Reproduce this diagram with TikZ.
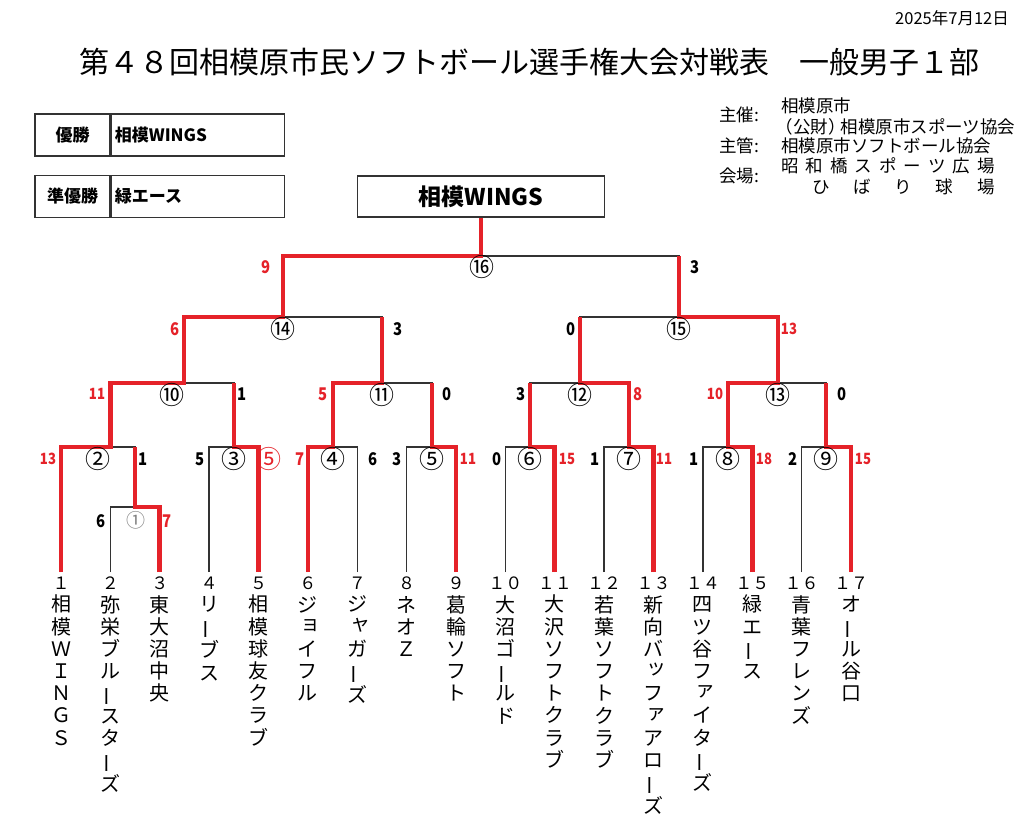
\documentclass[tikz,border=0pt]{standalone}
\usepackage{fontspec}
\setmainfont{Noto Sans CJK JP}
\definecolor{wred}{HTML}{E52229}
\definecolor{lgray}{HTML}{333333}
\definecolor{cgray}{HTML}{808080}
\newcommand\vl{\rotatebox[origin=c]{90}{ー}}
\newcommand\sk[1]{\makebox[1em][l]{\hspace*{0.14em}\raisebox{0.2em}{#1}}}
\newcommand\scn[1]{\scalebox{0.85}[1]{#1}}
\newcommand\tn[1]{{\fontsize{17}{22.2}\selectfont #1}}
\begin{document}
\begin{tikzpicture}[x=1pt,y=-1pt,
  lose/.style={draw=lgray, line width=1.3pt},
  win/.style={draw=wred, line width=4.6pt, line join=miter},
  sc/.style={font=\fontsize{17.5}{17.5}\selectfont\bfseries, inner sep=0pt, text=black},
  scr/.style={sc, text=wred},
  scrr/.style={sc, text=wred, font=\fontsize{15.5}{15.5}\selectfont\bfseries},
  circ/.style={font=\fontsize{25}{25}\selectfont, inner sep=0pt},
  team/.style={anchor=north, align=center, font=\fontsize{20}{22.2}\selectfont, inner sep=0pt},
  info/.style={anchor=west, font=\fontsize{17.5}{17.5}\selectfont, inner sep=0pt},
  cell/.style={draw=lgray, line width=1.4pt, minimum height=42pt, inner sep=0pt, font=\fontsize{17}{17}\selectfont\bfseries},
]
\useasboundingbox[fill=white] (0,0) rectangle (1024,827);

% header
\node[anchor=east, inner sep=0pt, font=\fontsize{16.5}{16.5}\selectfont] (date) at (1009,18) {2025年7月12日};
\node[inner sep=0pt, font=\fontsize{30}{30}\selectfont] (title) at (529,62) {第４８回相模原市民ソフトボール選手権大会対戦表　一般男子１部};

% result boxes
\node[cell, minimum width=75pt] (wl) at (72.5,135) {優勝};
\node[cell, minimum width=173pt, anchor=west, text width=166pt, align=left] (wv) at (wl.east) {相模WINGS};
\node[cell, minimum width=75pt] (rl) at (72.5,196.5) {準優勝};
\node[cell, minimum width=173pt, anchor=west, text width=166pt, align=left] (rv) at (rl.east) {緑エース};

% info
\node[info] (i1) at (719,115) {主催:};
\node[info] (i1a) at (781,106) {相模原市};
\node[info] (i1b) at (781,127) {\makebox[0.7em][r]{（}公財\makebox[0.7em][l]{）}相模原市スポーツ協会};
\node[info] (i2) at (719,146) {主管:};
\node[info] (i2a) at (781,146) {相模原市ソフトボール協会};
\node[info] (i3) at (719,176) {会場:};
\node[info] (i3a) at (781,166) {昭\hspace{7pt}和\hspace{7pt}橋\hspace{7pt}ス\hspace{7pt}ポ\hspace{7pt}ー\hspace{7pt}ツ\hspace{7pt}広\hspace{7pt}場};
\node[info] (i3b) at (812,187) {ひ\hspace{23.75pt}ば\hspace{23.75pt}り\hspace{23.75pt}球\hspace{23.75pt}場};

% champion box
\node[draw=lgray, line width=1.4pt, minimum width=247pt, minimum height=41pt, inner sep=0pt, font=\fontsize{23}{23}\selectfont\bfseries] (champ) at (481,196.5) {相模WINGS};

% team coordinates
\foreach \i in {1,...,17} \coordinate (t\i) at ({61+(\i-1)*49.375},572);
% match coordinates
\coordinate (m1) at (135,507);
\coordinate (m2) at (110.4,447);
\coordinate (m3) at (234,447);
\coordinate (m4) at (333,447);
\coordinate (m5) at (432,447);
\coordinate (m6) at (530,447);
\coordinate (m7) at (629,447);
\coordinate (m8) at (728,447);
\coordinate (m9) at (826,447);
\coordinate (m10) at (184,383);
\coordinate (m11) at (382,383);
\coordinate (m12) at (580,383);
\coordinate (m13) at (778,383);
\coordinate (m14) at (283,317);
\coordinate (m15) at (679,317);
\coordinate (m16) at (481,256);

% black bracket
\draw[lose] (t2) |- (m1); \draw[lose] (t3) |- (m1);
\draw[lose] (t1) |- (m2); \draw[lose] (m1) |- (m2);
\draw[lose] (t4) |- (m3); \draw[lose] (t5) |- (m3);
\draw[lose] (t6) |- (m4); \draw[lose] (t7) |- (m4);
\draw[lose] (t8) |- (m5); \draw[lose] (t9) |- (m5);
\draw[lose] (t10) |- (m6); \draw[lose] (t11) |- (m6);
\draw[lose] (t12) |- (m7); \draw[lose] (t13) |- (m7);
\draw[lose] (t14) |- (m8); \draw[lose] (t15) |- (m8);
\draw[lose] (t16) |- (m9); \draw[lose] (t17) |- (m9);
\draw[lose] (m2) |- (m10); \draw[lose] (m3) |- (m10);
\draw[lose] (m4) |- (m11); \draw[lose] (m5) |- (m11);
\draw[lose] (m6) |- (m12); \draw[lose] (m7) |- (m12);
\draw[lose] (m8) |- (m13); \draw[lose] (m9) |- (m13);
\draw[lose] (m10) |- (m14); \draw[lose] (m11) |- (m14);
\draw[lose] (m12) |- (m15); \draw[lose] (m13) |- (m15);
\draw[lose] (m14) |- (m16); \draw[lose] (m15) |- (m16);

% red winner paths
\draw[win] (t1) |- (m2) |- (m10) |- (m14) |- (m16) -- (champ.south);
\draw[win] (t3) |- (m1) -- (m1 |- m2);
\draw[win] (t5) |- (m3) -- (m3 |- m10);
\draw[win] (t6) |- (m4) |- (m11) -- (m11 |- m14);
\draw[win] (t9) |- (m5) -- (m5 |- m11);
\draw[win] (t11) |- (m6) -- (m6 |- m12);
\draw[win] (t13) |- (m7) |- (m12) -- (m12 |- m15);
\draw[win] (t15) |- (m8) |- (m13) |- (m15) -- (m15 |- m16);
\draw[win] (t17) |- (m9) -- (m9 |- m13);

% match numbers
\node[circ, font=\fontsize{19}{19}\selectfont, text=cgray] (c1) at (136,520) {①};
\node[circ] (c2) at (98,459) {②};
\node[circ] (c3) at (234,459) {③};
\node[circ] (c4) at (333,459) {④};
\node[circ] (c5) at (432,459) {⑤};
\node[circ] (c6) at (530,459) {⑥};
\node[circ] (c7) at (629,459) {⑦};
\node[circ] (c8) at (728,459) {⑧};
\node[circ] (c9) at (826,459) {⑨};
\node[circ] (c10) at (172,395) {⑩};
\node[circ] (c11) at (382,395) {⑪};
\node[circ] (c12) at (580,395) {⑫};
\node[circ] (c13) at (778,395) {⑬};
\node[circ] (c14) at (283,329) {⑭};
\node[circ] (c15) at (679,329) {⑮};
\node[circ] (c16) at (482,267) {⑯};

% scores
\node[sc] (s1a) at (101,521) {\scn{6}};
\node[scr] (s1b) at (167,521) {\scn{7}};
\node[scrr] (s2a) at (48,459) {\scn{13}};
\node[sc] (s2b) at (143,459) {\scn{1}};
\node[sc] (s3a) at (200,459) {\scn{5}};
\node[circ, text=wred] (s3b) at (269,459) {⑤};
\node[scr] (s4a) at (300,459) {\scn{7}};
\node[sc] (s4b) at (373,459) {\scn{6}};
\node[sc] (s5a) at (397,459) {\scn{3}};
\node[scrr] (s5b) at (468,459) {\scn{11}};
\node[sc] (s6a) at (497,459) {\scn{0}};
\node[scrr] (s6b) at (567,459) {\scn{15}};
\node[sc] (s7a) at (595,459) {\scn{1}};
\node[scrr] (s7b) at (664,459) {\scn{11}};
\node[sc] (s8a) at (694,459) {\scn{1}};
\node[scrr] (s8b) at (764,459) {\scn{18}};
\node[sc] (s9a) at (793,459) {\scn{2}};
\node[scrr] (s9b) at (863,459) {\scn{15}};
\node[scrr] (s10a) at (97,394) {\scn{11}};
\node[sc] (s10b) at (242,394) {\scn{1}};
\node[scr] (s11a) at (323,394) {\scn{5}};
\node[sc] (s11b) at (447,394) {\scn{0}};
\node[sc] (s12a) at (521,394) {\scn{3}};
\node[scr] (s12b) at (638,394) {\scn{8}};
\node[scrr] (s13a) at (715,394) {\scn{10}};
\node[sc] (s13b) at (842,394) {\scn{0}};
\node[scr] (s14a) at (175,329) {\scn{6}};
\node[sc] (s14b) at (398,329) {\scn{3}};
\node[sc] (s15a) at (571,329) {\scn{0}};
\node[scrr] (s15b) at (789,329) {\scn{13}};
\node[scr] (s16a) at (266,267) {\scn{9}};
\node[sc] (s16b) at (695,267) {\scn{3}};

% team names
\tikzset{tpos/.style={yshift=-5pt}}
\node[team] (n1) at ([tpos]t1) {\tn{１}\\相\\模\\Ｗ\\Ｉ\\Ｎ\\Ｇ\\Ｓ};
\node[team] (n2) at ([tpos]t2) {\tn{２}\\弥\\栄\\ブ\\ル\\\vl\\ス\\タ\\\vl\\ズ};
\node[team] (n3) at ([tpos]t3) {\tn{３}\\東\\大\\沼\\中\\央};
\node[team] (n4) at ([tpos]t4) {\tn{４}\\リ\\\vl\\ブ\\ス};
\node[team] (n5) at ([tpos]t5) {\tn{５}\\相\\模\\球\\友\\ク\\ラ\\ブ};
\node[team] (n6) at ([tpos]t6) {\tn{６}\\ジ\\\sk{ョ}\\イ\\フ\\ル};
\node[team] (n7) at ([tpos]t7) {\tn{７}\\ジ\\\sk{ャ}\\ガ\\\vl\\ズ};
\node[team] (n8) at ([tpos]t8) {\tn{８}\\ネ\\オ\\Ｚ};
\node[team] (n9) at ([tpos]t9) {\tn{９}\\葛\\輪\\ソ\\フ\\ト};
\node[team] (n10) at ([tpos]t10) {\tn{１０}\\大\\沼\\ゴ\\\vl\\ル\\ド};
\node[team] (n11) at ([tpos]t11) {\tn{１１}\\大\\沢\\ソ\\フ\\ト\\ク\\ラ\\ブ};
\node[team] (n12) at ([tpos]t12) {\tn{１２}\\若\\葉\\ソ\\フ\\ト\\ク\\ラ\\ブ};
\node[team] (n13) at ([tpos]t13) {\tn{１３}\\新\\向\\バ\\\sk{ッ}\\フ\\\sk{ァ}\\ア\\ロ\\\vl\\ズ};
\node[team] (n14) at ([tpos]t14) {\tn{１４}\\四\\ツ\\谷\\フ\\\sk{ァ}\\イ\\タ\\\vl\\ズ};
\node[team] (n15) at ([tpos]t15) {\tn{１５}\\緑\\エ\\\vl\\ス};
\node[team] (n16) at ([tpos]t16) {\tn{１６}\\青\\葉\\フ\\レ\\ン\\ズ};
\node[team] (n17) at ([tpos]t17) {\tn{１７}\\オ\\\vl\\ル\\谷\\口};
\end{tikzpicture}
\end{document}
